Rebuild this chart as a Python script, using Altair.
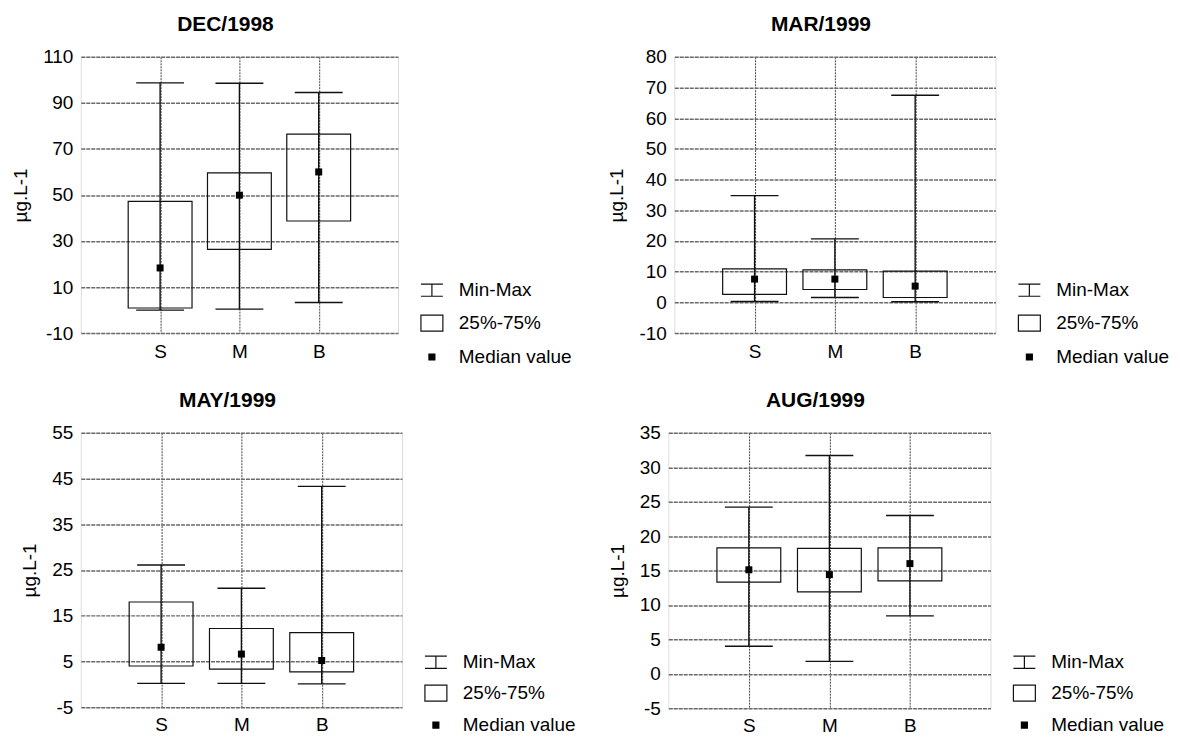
import altair as alt
import pandas as pd

cats = ["S", "M", "B"]
legend_items = ["Min-Max", "25%-75%", "Median value"]
y_title = "µg.L-1"

titles = ["DEC/1998", "MAR/1999", "MAY/1999", "AUG/1999"]

dec_min = [0.0, 0.4, 3.3]
dec_q1 = [0.9, 26.4, 38.7]
dec_med = [18.3, 49.9, 60.0]
dec_q3 = [47.2, 59.6, 76.4]
dec_max = [98.7, 98.5, 94.5]

mar_min = [0.3, 1.6, 0.2]
mar_q1 = [2.6, 4.2, 1.6]
mar_med = [7.6, 7.6, 5.3]
mar_q3 = [10.9, 10.6, 10.2]
mar_max = [34.8, 20.7, 67.5]

may_min = [0.2, 0.2, 0.1]
may_q1 = [4.0, 3.3, 2.7]
may_med = [8.1, 6.6, 5.2]
may_q3 = [18.0, 12.2, 11.3]
may_max = [26.1, 21.0, 43.3]

aug_min = [4.0, 1.8, 8.4]
aug_q1 = [13.3, 11.9, 13.5]
aug_med = [15.1, 14.4, 16.0]
aug_q3 = [18.3, 18.2, 18.3]
aug_max = [24.2, 31.7, 23.0]

dec_ticks = [-10, 10, 30, 50, 70, 90, 110]
mar_ticks = [-10, 0, 10, 20, 30, 40, 50, 60, 70, 80]
may_ticks = [-5, 5, 15, 25, 35, 45, 55]
aug_ticks = [-5, 0, 5, 10, 15, 20, 25, 30, 35]

FONT = "Liberation Sans"
INK = "#111111"

# legend symbol shapes (unit-box SVG paths)
IBEAM = "M-1,-0.55L1,-0.55M0,-0.55L0,0.55M-1,0.55L1,0.55"
BOX = "M-1,-0.73L1,-0.73L1,0.73L-1,0.73Z"
MEDSQ = "M-0.27,-0.27L0.27,-0.27L0.27,0.27L-0.27,0.27Z"


def panel(title, mins, q1s, meds, q3s, maxs, ticks, w, h, legy, rowpad, xpad):
    df = pd.DataFrame({"cat": cats, "lo": mins, "q1": q1s, "med": meds,
                       "q3": q3s, "hi": maxs})
    base = alt.Chart(df)
    xenc = alt.X("cat:N", sort=cats,
                 scale=alt.Scale(type="point", padding=1),
                 axis=alt.Axis(title=None, labelAngle=0, ticks=False, domain=False,
                               grid=True, gridColor="#444444", gridDash=[2, 1],
                               gridWidth=1, labelPadding=xpad, labelFontSize=19,
                               labelFont=FONT, labelColor="#000000"))
    yscale = alt.Scale(domain=[ticks[0], ticks[-1]], nice=False, zero=False)
    yaxis = alt.Axis(title=y_title, values=ticks, grid=True, gridColor="#6a6a6a",
                     gridDash=[4, 1], gridWidth=1.5, ticks=False, domain=False,
                     labelPadding=8, labelFontSize=19, labelFont=FONT,
                     labelExpr="'' + datum.value",
                     labelColor="#000000", titleFont=FONT, titleFontSize=19,
                     titleFontWeight="normal", titleColor="#000000", titlePadding=12)

    def Y(f):
        return alt.Y(f"{f}:Q", scale=yscale, axis=yaxis, title=y_title)

    whisk = base.mark_rule(color=INK, strokeWidth=1.4).encode(
        x=xenc, y=Y("lo"), y2="hi:Q")
    cap_lo = base.mark_tick(size=48, thickness=1.4, color=INK, opacity=1).encode(
        x=xenc, y=Y("lo"))
    cap_hi = base.mark_tick(size=48, thickness=1.4, color=INK, opacity=1).encode(
        x=xenc, y=Y("hi"))
    box = base.mark_bar(size=64, fillOpacity=0, stroke=INK, strokeWidth=1.2).encode(
        x=xenc, y=Y("q1"), y2="q3:Q")
    med = base.mark_square(size=49, color="#000000", opacity=1, filled=True).encode(
        x=xenc, y=Y("med"))

    leg_df = pd.DataFrame({"item": legend_items})
    legend = alt.Legend(title=None, orient="none", legendX=w + 22, legendY=legy,
                        labelFontSize=19, labelFont=FONT, labelColor="#000000",
                        symbolSize=484, rowPadding=rowpad, labelOffset=15, padding=0,
                        symbolStrokeWidth=1.2, symbolOpacity=1)
    leg = alt.Chart(leg_df).transform_filter("false").mark_point(
        filled=True, size=484, strokeWidth=1.2).encode(
        shape=alt.Shape("item:N", sort=legend_items,
                        scale=alt.Scale(domain=legend_items, range=[IBEAM, BOX, MEDSQ]),
                        legend=legend),
        fill=alt.Fill("item:N", sort=legend_items,
                      scale=alt.Scale(domain=legend_items,
                                      range=["transparent", "transparent", "#000000"]),
                      legend=legend),
        stroke=alt.Stroke("item:N", sort=legend_items,
                          scale=alt.Scale(domain=legend_items,
                                          range=[INK, INK, "#000000"]),
                          legend=legend),
    )

    return alt.layer(whisk, cap_lo, cap_hi, box, med, leg).properties(
        width=w, height=h,
        title=alt.TitleParams(title, anchor="middle", frame="group", dx=-14,
                              fontSize=21, font=FONT, fontWeight="bold",
                              color="#000000", offset=13),
    )


p1 = panel(titles[0], dec_min, dec_q1, dec_med, dec_q3, dec_max, dec_ticks, 318, 277, 222, 11, 9)
p2 = panel(titles[1], mar_min, mar_q1, mar_med, mar_q3, mar_max, mar_ticks, 322, 277, 222, 11, 9)
p3 = panel(titles[2], may_min, may_q1, may_med, may_q3, may_max, may_ticks, 322, 275, 218, 9, 8)
p4 = panel(titles[3], aug_min, aug_q1, aug_med, aug_q3, aug_max, aug_ticks, 323, 276, 218, 9, 8)

chart = alt.concat(
    p1, p2, p3, p4, columns=2, align="none",
    spacing={"row": 21, "column": 30},
).resolve_scale(
    shape="independent", fill="independent", stroke="independent"
).properties(
    padding={"left": 3, "top": 4, "right": 2, "bottom": 2}
).configure_view(
    stroke="#000000", strokeWidth=1.5
).configure(background="white")

chart.save("out.html", embed_options={"renderer": "svg", "actions": False})
